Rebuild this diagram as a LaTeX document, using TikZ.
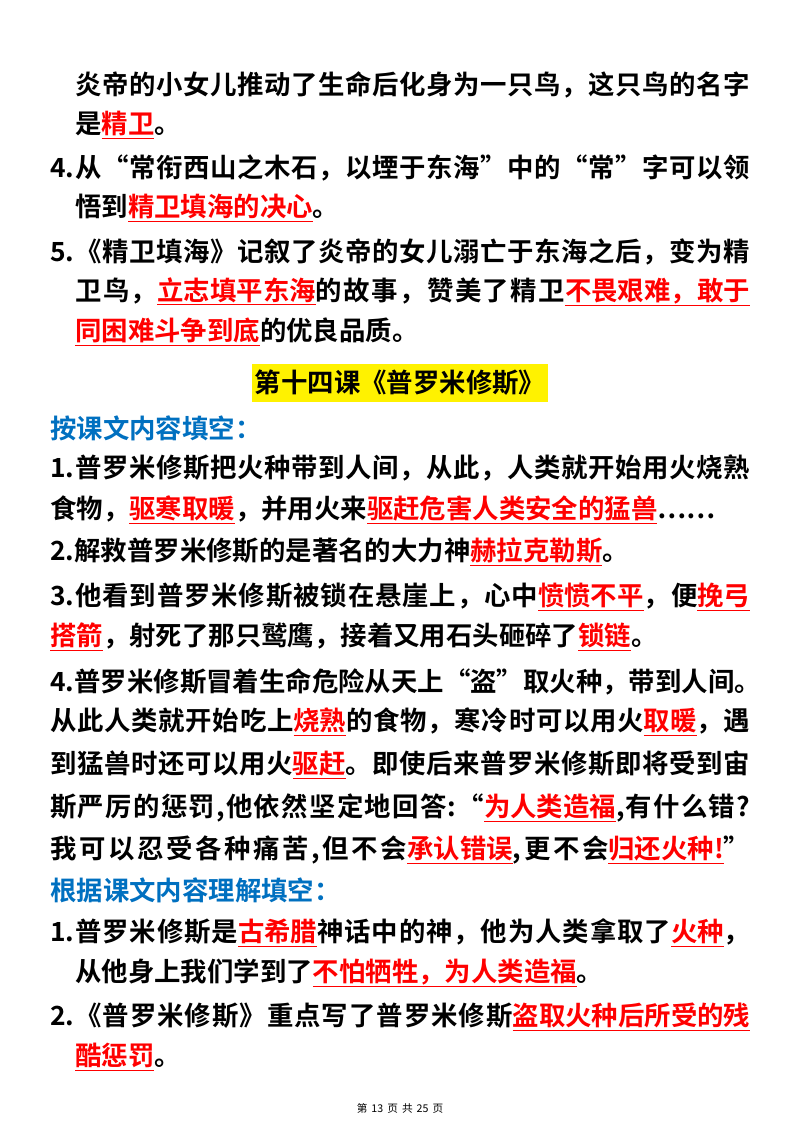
\documentclass[tikz,border=0pt]{standalone}
\usepackage{fontspec}
\setmainfont{Noto Sans CJK SC}[BoldFont={Noto Sans CJK SC Bold}]
\definecolor{hblue}{RGB}{0,112,192}
\newcount\cjkc
\cjkc="4E00
\loop\XeTeXcharclass\cjkc=1 \advance\cjkc by 1 \ifnum\cjkc<"9FFF\repeat
\XeTeXcharclass"FF0C=1 \XeTeXcharclass"3002=1 \XeTeXcharclass"FF1A=1
\XeTeXcharclass"FF01=1 \XeTeXcharclass"FF1F=1 \XeTeXcharclass"3001=1
\XeTeXcharclass"300A=1 \XeTeXcharclass"300B=1 \XeTeXcharclass"201C=1
\XeTeXcharclass"201D=1 \XeTeXcharclass"2026=1
\XeTeXinterchartokenstate=1
\XeTeXinterchartoks 0 1 = {\hskip0pt plus 2pt}
\XeTeXinterchartoks 1 0 = {\hskip0pt plus 2pt}
\XeTeXinterchartoks 1 1 = {\hskip0pt plus 2pt}
\newcommand{\ru}[1]{{\color{red}\underline{#1}}}
\newcommand{\fl}[2]{\makebox[#1][s]{#2}}
\tikzset{ln/.style={anchor=west,inner sep=0pt,font=\fontsize{19.8}{22}\selectfont\bfseries}}
\begin{document}
\begin{tikzpicture}[x=0.75pt,y=-0.75pt]
\useasboundingbox (0,0) rectangle (800,1132);
\fill[white] (0,0) rectangle (800,1132);
\node[ln] (l1) at (75,85) {\fl{506pt}{炎帝的小女儿推动了生命后化身为一只鸟，这只鸟的名字}};
\node[ln] (l2) at (75,125) {是\ru{精卫}。};
\node[ln] (l3) at (50,168) {\fl{525pt}{4.从“常衔西山之木石，以堙于东海”中的“常”字可以领}};
\node[ln] (l4) at (75,208) {悟到\ru{精卫填海的决心}。};
\node[ln] (l5) at (50,252) {\fl{525pt}{5.《精卫填海》记叙了炎帝的女儿溺亡于东海之后，变为精}};
\node[ln] (l6) at (75,292) {\fl{506pt}{卫鸟，\ru{立志填平东海}的故事，赞美了精卫\ru{不畏艰难，敢于}}};
\node[ln] (l7) at (75,332) {\ru{同困难斗争到底}的优良品质。};
\node[ln,anchor=center,fill=yellow,minimum width=222pt,minimum height=28pt] (t) at (400,383) {第十四课《普罗米修斯》};
\node[ln,text=hblue] (h1) at (50,428) {按课文内容填空：};
\node[ln] (m1) at (50,468) {\fl{525pt}{1.普罗米修斯把火种带到人间，从此，人类就开始用火烧熟}};
\node[ln] (m2) at (50,510) {食物，\ru{驱寒取暖}，并用火来\ru{驱赶危害人类安全的猛兽}……};
\node[ln] (m3) at (50,552) {2.解救普罗米修斯的是著名的大力神\ru{赫拉克勒斯}。};
\node[ln] (m4) at (50,597) {\fl{525pt}{3.他看到普罗米修斯被锁在悬崖上，心中\ru{愤愤不平}，便\ru{挽弓}}};
\node[ln] (m5) at (50,637) {\ru{搭箭}，射死了那只鹫鹰，接着又用石头砸碎了\ru{锁链}。};
\node[ln] (m6) at (50,682) {\fl{525pt}{4.普罗米修斯冒着生命危险从天上“盗”取火种，带到人间。}};
\node[ln] (m7) at (50,722) {\fl{525pt}{从此人类就开始吃上\ru{烧熟}的食物，寒冷时可以用火\ru{取暖}，遇}};
\node[ln] (m8) at (50,765) {\fl{525pt}{到猛兽时还可以用火\ru{驱赶}。即使后来普罗米修斯即将受到宙}};
\node[ln] (m9) at (50,808) {\fl{525pt}{斯严厉的惩罚,他依然坚定地回答:“\ru{为人类造福},有什么错?}};
\node[ln] (m10) at (50,850) {\fl{525pt}{我可以忍受各种痛苦,但不会\ru{承认错误},更不会\ru{归还火种!}”}};
\node[ln,text=hblue] (h2) at (50,890) {根据课文内容理解填空：};
\node[ln] (n1) at (50,933) {\fl{525pt}{1.普罗米修斯是\ru{古希腊}神话中的神，他为人类拿取了\ru{火种}，}};
\node[ln] (n2) at (75,973) {从他身上我们学到了\ru{不怕牺牲，为人类造福}。};
\node[ln] (n3) at (50,1017) {\fl{525pt}{2.《普罗米修斯》重点写了普罗米修斯\ru{盗取火种后所受的残}}};
\node[ln] (n4) at (75,1057) {\ru{酷惩罚}。};
\node[inner sep=0pt,font=\fontsize{8}{9}\selectfont] (f) at (400,1108) {第\hspace{3pt}13\hspace{3pt}页\hspace{3pt}共\hspace{3pt}25\hspace{3pt}页};
\end{tikzpicture}
\end{document}
